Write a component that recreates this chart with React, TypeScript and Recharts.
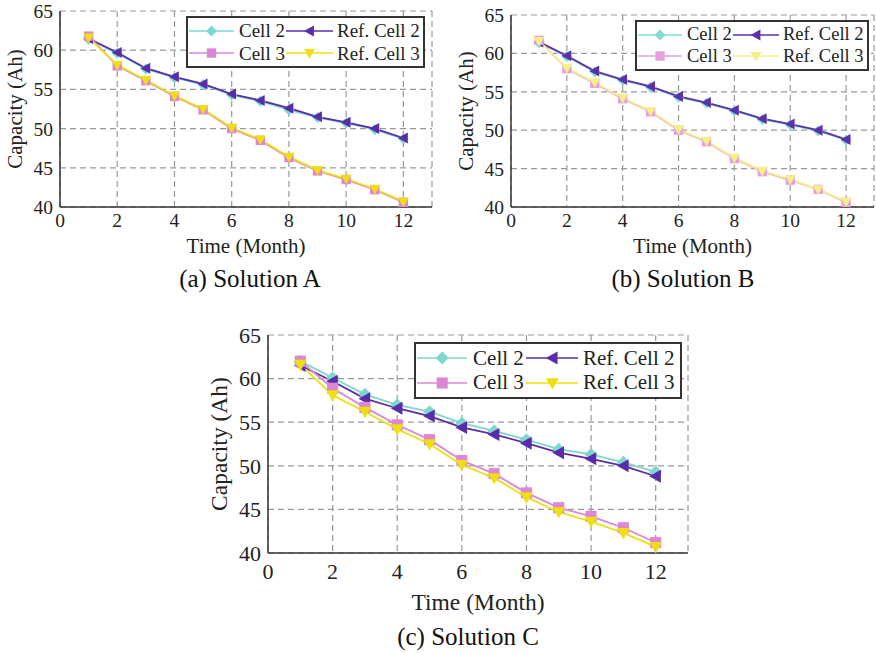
import { CartesianGrid, Legend, Line, LineChart, XAxis, YAxis } from 'recharts';

const months = [1, 2, 3, 4, 5, 6, 7, 8, 9, 10, 11, 12];

// reference curves, same in all three panels
const refCell2 = [61.5, 59.7, 57.7, 56.6, 55.7, 54.4, 53.6, 52.6, 51.5, 50.8, 50.0, 48.8];
const refCell3 = [61.6, 58.1, 56.2, 54.2, 52.5, 50.1, 48.6, 46.4, 44.7, 43.6, 42.3, 40.7];

const cell2A = [61.4, 59.6, 57.6, 56.5, 55.6, 54.3, 53.5, 52.4, 51.4, 50.7, 49.9, 48.7];
const cell3A = [61.8, 58.0, 56.1, 54.1, 52.4, 50.0, 48.5, 46.3, 44.6, 43.5, 42.2, 40.6];

const cell2B = [61.4, 59.6, 57.6, 56.5, 55.6, 54.3, 53.5, 52.5, 51.4, 50.7, 49.9, 48.7];
const cell3B = [61.7, 58.0, 56.1, 54.1, 52.4, 50.0, 48.5, 46.3, 44.6, 43.5, 42.3, 40.6];

const cell2C = [62.0, 60.1, 58.2, 57.0, 56.2, 54.9, 54.0, 53.0, 51.9, 51.3, 50.4, 49.3];
const cell3C = [62.0, 58.9, 56.7, 54.7, 53.0, 50.6, 49.1, 46.9, 45.2, 44.2, 42.9, 41.2];

const xTicks = [0, 2, 4, 6, 8, 10, 12];
const xMinorTicks = [0, 1, 2, 3, 4, 5, 6, 7, 8, 9, 10, 11, 12, 13];
const yTicks = [40, 45, 50, 55, 60, 65];
const yMinorTicks = [40, 42.5, 45, 47.5, 50, 52.5, 55, 57.5, 60, 62.5, 65];

const FONT = 'Liberation Serif, Times New Roman, DejaVu Serif, serif';

type Shape = 'diamond' | 'left' | 'square' | 'down';

type MarkerProps = { cx: number; cy: number; shape: Shape; size: number; color: string };

function Marker({ cx, cy, shape, size, color }: MarkerProps) {
  const r = size / 2;
  if (cx == null || cy == null) return null;
  if (shape === 'square') {
    return <rect x={cx - r * 0.85} y={cy - r * 0.85} width={r * 1.7} height={r * 1.7} fill={color} />;
  }
  let pts = '';
  if (shape === 'diamond') pts = `${cx},${cy - r} ${cx + r},${cy} ${cx},${cy + r} ${cx - r},${cy}`;
  if (shape === 'left') pts = `${cx - r},${cy} ${cx + r * 0.8},${cy - r} ${cx + r * 0.8},${cy + r}`;
  if (shape === 'down') pts = `${cx - r},${cy - r * 0.75} ${cx + r},${cy - r * 0.75} ${cx},${cy + r}`;
  return <polygon points={pts} fill={color} />;
}

type PanelProps = {
  left: number;
  top: number;
  width: number;
  height: number;
  margin: { top: number; right: number; bottom: number; left: number };
  yAxisWidth: number;
  xAxisHeight: number;
  xTickMargin: number;
  xLabelOffset: number;
  tickSize: number;
  labelSize: number;
  legendSize: number;
  captionSize: number;
  markerSize: number;
  legendBox: { left: number; top: number; width: number; height: number };
  cell2: number[];
  cell3: number[];
  colors: string[];
  caption: string;
  captionX: number;
  captionY: number;
  yLabelDx: number;
};

function Panel(p: PanelProps) {
  const rows = months.map((m, i) => ({
    month: m,
    cell2: p.cell2[i],
    ref2: refCell2[i],
    cell3: p.cell3[i],
    ref3: refCell3[i],
  }));

  const series: { key: string; name: string; color: string; shape: Shape }[] = [
    { key: 'cell2', name: 'Cell 2', color: p.colors[0], shape: 'diamond' },
    { key: 'ref2', name: 'Ref. Cell 2', color: p.colors[1], shape: 'left' },
    { key: 'cell3', name: 'Cell 3', color: p.colors[2], shape: 'square' },
    { key: 'ref3', name: 'Ref. Cell 3', color: p.colors[3], shape: 'down' },
  ];

  const k = p.legendBox.width / 239;

  const renderLegend = (props: any) => {
    const items = ((props.payload || []) as any[])
      .slice()
      .sort((a, b) => series.findIndex((s) => s.key === a.dataKey) - series.findIndex((s) => s.key === b.dataKey));
    return (
      <div
        style={{
          width: p.legendBox.width,
          height: p.legendBox.height,
          boxSizing: 'border-box',
          border: '2px solid #333',
          background: '#fff',
          display: 'grid',
          gridTemplateColumns: `${50 * k}px ${47 * k}px ${51 * k}px auto`,
          alignContent: 'space-evenly',
          alignItems: 'center',
          fontFamily: FONT,
          fontSize: p.legendSize,
          color: '#222',
          paddingLeft: 1,
        }}
      >
        {items.map((it, i) => {
          const s = series.find((x) => x.key === it.dataKey)!;
          const w = (i % 2 === 0 ? 45 : 47) * k;
          return [
            <svg key={`${s.key}-i`} width={w} height={16} style={{ display: 'block' }}>
              <line x1={0} y1={8} x2={w} y2={8} stroke={s.color} strokeWidth={1.5} />
              <Marker cx={w / 2} cy={8} shape={s.shape} size={p.markerSize} color={s.color} />
            </svg>,
            <span key={`${s.key}-t`} style={{ whiteSpace: 'nowrap', lineHeight: 1 }}>
              {it.value}
            </span>,
          ];
        })}
      </div>
    );
  };

  const axisStroke = { stroke: '#333', strokeWidth: 1.5 };
  const tickStroke = { stroke: '#333', strokeWidth: 1.2 };

  return (
    <div style={{ position: 'absolute', left: p.left, top: p.top, fontFamily: FONT }}>
      <LineChart width={p.width} height={p.height} data={rows} margin={p.margin} style={{ fontFamily: FONT }}>
        <CartesianGrid xAxisId="main" yAxisId="main" stroke="#999" strokeDasharray="6 4" strokeWidth={1.2} />
        <XAxis
          xAxisId="main"
          dataKey="month"
          type="number"
          domain={[0, 13]}
          ticks={xTicks}
          tickLine={false}
          axisLine={axisStroke}
          height={p.xAxisHeight}
          tickSize={6}
          tickMargin={p.xTickMargin}
          tick={{ fill: '#222', fontSize: p.tickSize, fontFamily: FONT }}
          label={{ value: 'Time (Month)', position: 'insideBottom', offset: p.xLabelOffset, fill: '#222', fontSize: p.labelSize, fontFamily: FONT }}
          allowDataOverflow
        />
        <XAxis xAxisId="inner" dataKey="month" type="number" domain={[0, 13]} ticks={xMinorTicks} tick={false} axisLine={false} tickLine={tickStroke} tickSize={5} mirror height={0} />
        <XAxis xAxisId="top" orientation="top" dataKey="month" type="number" domain={[0, 13]} ticks={xMinorTicks} tick={false} axisLine={axisStroke} tickLine={tickStroke} tickSize={5} mirror height={0} />
        <YAxis
          yAxisId="main"
          type="number"
          domain={[40, 65]}
          ticks={yTicks}
          tickLine={false}
          axisLine={axisStroke}
          width={p.yAxisWidth}
          tickSize={6}
          tickMargin={1}
          tick={{ fill: '#222', fontSize: p.tickSize, fontFamily: FONT }}
          label={{
            value: 'Capacity (Ah)',
            angle: -90,
            position: 'insideLeft',
            dx: p.yLabelDx,
            style: { textAnchor: 'middle', fontFamily: FONT },
            fill: '#222',
            fontSize: p.labelSize,
          }}
          allowDataOverflow
        />
        <YAxis yAxisId="inner" type="number" domain={[40, 65]} ticks={yMinorTicks} tick={false} axisLine={false} tickLine={tickStroke} tickSize={5} mirror width={0} />
        <YAxis yAxisId="right" orientation="right" type="number" domain={[40, 65]} ticks={yMinorTicks} tick={false} axisLine={axisStroke} tickLine={tickStroke} tickSize={5} mirror width={0} />
        <Legend
          layout="horizontal"
          verticalAlign="middle"
          align="center"
          content={renderLegend}
          wrapperStyle={{ left: p.legendBox.left, top: p.legendBox.top, width: p.legendBox.width, height: p.legendBox.height }}
        />
        {series.map((s) => (
          <Line
            key={s.key}
            xAxisId="main"
            yAxisId="main"
            dataKey={s.key}
            name={s.name}
            stroke={s.color}
            strokeWidth={1.8}
            isAnimationActive={false}
            activeDot={false}
            dot={(d: any) => (
              <Marker key={`${s.key}-${d.index}`} cx={d.cx} cy={d.cy} shape={s.shape} size={p.markerSize} color={s.color} />
            )}
          />
        ))}
      </LineChart>
      <div
        style={{
          position: 'absolute',
          left: p.captionX - 150,
          top: p.captionY - 15,
          width: 300,
          textAlign: 'center',
          fontFamily: FONT,
          fontSize: p.captionSize,
          color: '#111',
          lineHeight: '30px',
        }}
      >
        {p.caption}
      </div>
    </div>
  );
}

export default function App() {
  return (
    <div style={{ position: 'absolute', left: 0, top: 0, width: 876, height: 653, background: '#fff', overflow: 'hidden' }}>
      <Panel
        left={0}
        top={0}
        width={440}
        height={262}
        margin={{ top: 11, right: 8, bottom: 3, left: 10 }}
        yAxisWidth={50}
        xAxisHeight={52}
        xTickMargin={0}
        xLabelOffset={6}
        tickSize={19.5}
        labelSize={21}
        legendSize={19}
        captionSize={25}
        markerSize={11}
        legendBox={{ left: 186, top: 16, width: 239, height: 52 }}
        cell2={cell2A}
        cell3={cell3A}
        colors={['#78d8d2', '#5a2ca8', '#dd86d5', '#f0df10']}
        caption="(a) Solution A"
        captionX={250}
        captionY={279}
        yLabelDx={0}
      />
      <Panel
        left={436}
        top={0}
        width={440}
        height={262}
        margin={{ top: 15, right: 2, bottom: 3, left: 25 }}
        yAxisWidth={50}
        xAxisHeight={52}
        xTickMargin={0}
        xLabelOffset={6}
        tickSize={19.5}
        labelSize={21}
        legendSize={18.5}
        captionSize={25}
        markerSize={11}
        legendBox={{ left: 199, top: 20, width: 234, height: 51 }}
        cell2={cell2B}
        cell3={cell3B}
        colors={['#84dcd6', '#5b30a8', '#e6a0e0', '#f6ef88']}
        caption="(b) Solution B"
        captionX={247}
        captionY={279}
        yLabelDx={0}
      />
      <Panel
        left={200}
        top={320}
        width={500}
        height={300}
        margin={{ top: 15, right: 12, bottom: 5, left: 10 }}
        yAxisWidth={58}
        xAxisHeight={62}
        xTickMargin={4}
        xLabelOffset={5}
        tickSize={22}
        labelSize={23.5}
        legendSize={21}
        captionSize={25}
        markerSize={13}
        legendBox={{ left: 214, top: 22, width: 268, height: 57 }}
        cell2={cell2C}
        cell3={cell3C}
        colors={['#7fd6d0', '#5a2ca8', '#dc86d4', '#efdf10']}
        caption="(c) Solution C"
        captionX={268}
        captionY={317}
        yLabelDx={4}
      />
    </div>
  );
}
